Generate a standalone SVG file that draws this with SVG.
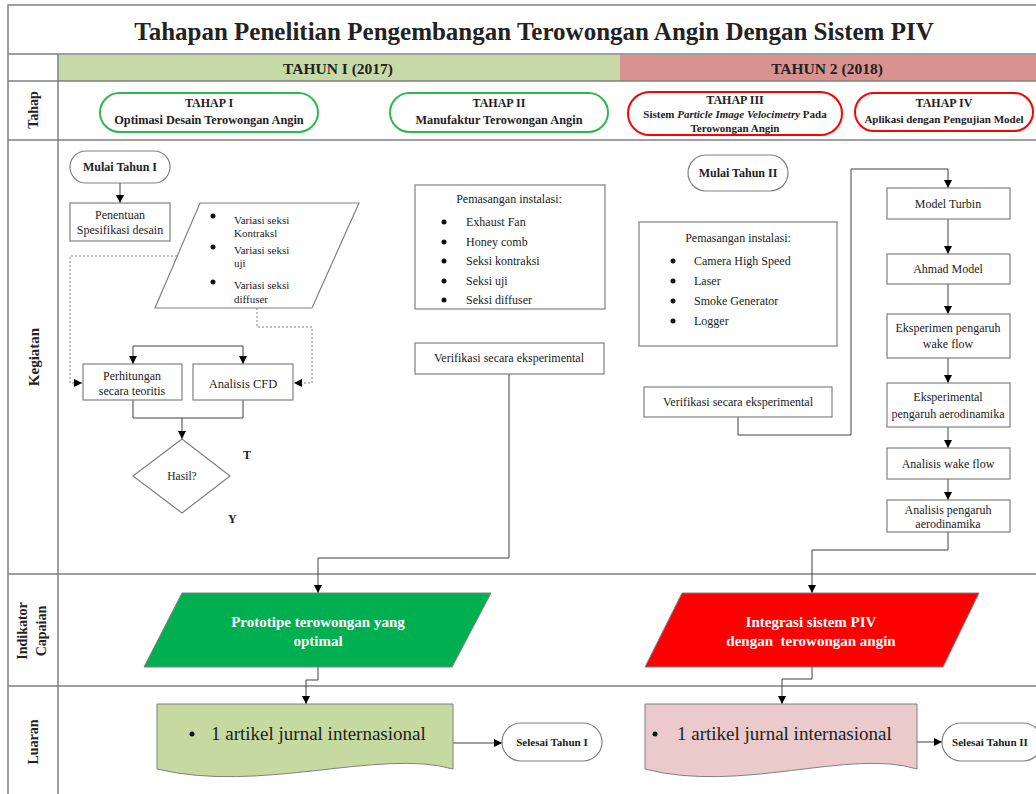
<svg xmlns="http://www.w3.org/2000/svg" width="1036" height="794" viewBox="0 0 1036 794" font-family="'Liberation Serif', 'DejaVu Serif', serif">
<defs>
<marker id="ah" markerUnits="userSpaceOnUse" markerWidth="8" markerHeight="8" refX="8" refY="4" orient="auto">
<path d="M0,0 L8,4 L0,8 z" fill="#000"/>
</marker>
<style>
text{font-family:'Liberation Serif','DejaVu Serif',serif;fill:#222}
.b{font-weight:bold}
.c{text-anchor:middle}
.grid{stroke:#808080;stroke-width:1.5;fill:none}
.box{fill:#fff;stroke:#808080;stroke-width:1.2}
.con{fill:none;stroke:#404040;stroke-width:1}
.arr{fill:none;stroke:#404040;stroke-width:1;marker-end:url(#ah)}
.dota{fill:none;stroke:#808080;stroke-width:1;stroke-dasharray:2,2;marker-end:url(#ah)}
.tg{fill:#fff;stroke:#2db84d;stroke-width:2}
.tr{fill:#fff;stroke:#ff0000;stroke-width:2}
.k{font-size:12px}
.t{font-weight:bold}
.w{fill:#fff;font-weight:bold;font-size:15px}
</style>
</defs>
<rect width="1036" height="794" fill="#fff"/>

<g id="grid">
<rect x="58" y="55" width="562" height="26" fill="#c6d9a6"/>
<rect x="620" y="55" width="416" height="26" fill="#d9928f"/>
<path class="grid" d="M8,794 V5 H1036 M8,54 H1036 M8,81 H1036 M8,140 H1036 M8,574 H1036 M8,686 H1036 M58,54 V794"/>
</g>

<g id="title">
<text class="b c" x="534" y="40" font-size="25">Tahapan Penelitian Pengembangan Terowongan Angin Dengan Sistem PIV</text>
<text class="b c" x="338" y="74" font-size="15.5">TAHUN I (2017)</text>
<text class="b c" x="827" y="74" font-size="15.5">TAHUN 2 (2018)</text>
</g>

<g id="row-labels">
<text class="b c" font-size="14" transform="translate(38,110) rotate(-90)">Tahap</text>
<text class="b c" font-size="15" transform="translate(39,357) rotate(-90)">Kegiatan</text>
<text class="b c" font-size="14" transform="translate(27,631) rotate(-90)">Indikator</text>
<text class="b c" font-size="14" transform="translate(46,631) rotate(-90)">Capaian</text>
<text class="b c" font-size="14" transform="translate(38,742) rotate(-90)">Luaran</text>
</g>

<g id="tahap1">
<rect class="tg" x="100" y="93" width="218" height="39" rx="19.5"/>
<text class="t c" x="209" y="107" font-size="12">TAHAP I</text>
<text class="t c" x="209" y="124" font-size="12.3">Optimasi Desain Terowongan Angin</text>
</g>
<g id="tahap2">
<rect class="tg" x="390" y="93" width="218" height="39" rx="19.5"/>
<text class="t c" x="499" y="107" font-size="12">TAHAP II</text>
<text class="t c" x="499" y="124" font-size="12.3">Manufaktur Terowongan Angin</text>
</g>
<g id="tahap3">
<rect class="tr" x="628" y="92" width="214" height="43" rx="21.5"/>
<text class="t c" x="735" y="104" font-size="12">TAHAP III</text>
<text class="t c" x="735" y="118" font-size="11">Sistem <tspan font-style="italic">Particle Image Velocimetry</tspan> Pada</text>
<text class="t c" x="735" y="132" font-size="11">Terowongan Angin</text>
</g>
<g id="tahap4">
<rect class="tr" x="855" y="93" width="178" height="38" rx="19"/>
<text class="t c" x="944" y="107" font-size="12">TAHAP IV</text>
<text class="t c" x="944" y="123" font-size="11">Aplikasi dengan Pengujian Model</text>
</g>

<g id="connectors">
<path class="arr" d="M120,183 V203"/>
<path class="dota" d="M177,256 H70 V383 H82"/>
<path class="dota" d="M257,308 V327 H312 V383 H294"/>
<path class="arr" d="M133,346 V364"/>
<path class="arr" d="M133,346 H243 V364"/>
<path class="con" d="M133,400 V418 H243 V400"/>
<path class="arr" d="M182,418 V439"/>
<path class="arr" d="M509,374 V558 H318 V593"/>
<path class="arr" d="M738,417 V435 H851 V169 H948 V188"/>
<path class="arr" d="M948,219 V254"/>
<path class="arr" d="M948,284 V314"/>
<path class="arr" d="M948,358 V383"/>
<path class="arr" d="M948,427 V448"/>
<path class="arr" d="M948,479 V500"/>
<path class="arr" d="M948,532 V550 H812 V593"/>
<path class="arr" d="M318,667 V680 H306 V704"/>
<path class="arr" d="M812,667 V679 H782 V704"/>
<path class="arr" d="M453,743 H502"/>
<path class="arr" d="M917,742 H942"/>
</g>

<g id="mulai1">
<rect class="box" x="70" y="151" width="100" height="32" rx="16"/>
<text class="b c" x="120" y="171" font-size="12">Mulai Tahun I</text>
</g>
<g id="penentuan">
<rect class="box" x="70" y="203" width="100" height="38"/>
<text class="k c" x="120" y="219">Penentuan</text>
<text class="k c" x="120" y="234">Spesifikasi desain</text>
</g>
<g id="variasi">
<polygon class="box" points="200,203 359,203 312,308 155,308"/>
<circle cx="213" cy="216" r="2.5" fill="#111"/>
<text x="234" y="224" font-size="11">Variasi seksi</text>
<text x="234" y="237" font-size="11">Kontraksl</text>
<circle cx="213" cy="247" r="2.5" fill="#111"/>
<text x="234" y="254" font-size="11">Variasi seksi</text>
<text x="234" y="267" font-size="11">uji</text>
<circle cx="213" cy="282" r="2.5" fill="#111"/>
<text x="234" y="289" font-size="11">Variasi seksi</text>
<text x="234" y="303" font-size="11">diffuser</text>
</g>
<g id="perhitungan">
<rect class="box" x="83" y="364" width="99" height="36"/>
<text class="k c" x="132" y="380">Perhitungan</text>
<text class="k c" x="132" y="395">secara teoritis</text>
</g>
<g id="cfd">
<rect class="box" x="193" y="364" width="100" height="36"/>
<text class="c" x="243" y="388" font-size="12.5">Analisis CFD</text>
</g>
<g id="hasil">
<polygon class="box" points="182,439 230,476 182,513 133,476"/>
<text class="c" x="182" y="480" font-size="11.5">Hasil?</text>
<text class="b" x="243" y="459" font-size="12">T</text>
<text class="b" x="228" y="523" font-size="12">Y</text>
</g>

<g id="pemasangan1">
<rect class="box" x="415" y="185" width="190" height="124"/>
<text class="k c" x="509" y="203">Pemasangan instalasi:</text>
<circle cx="444" cy="222" r="2.5" fill="#111"/>
<text class="k" x="466" y="226">Exhaust Fan</text>
<circle cx="444" cy="242" r="2.5" fill="#111"/>
<text class="k" x="466" y="246">Honey comb</text>
<circle cx="444" cy="261" r="2.5" fill="#111"/>
<text class="k" x="466" y="265">Seksi kontraksi</text>
<circle cx="444" cy="281" r="2.5" fill="#111"/>
<text class="k" x="466" y="285">Seksi uji</text>
<circle cx="444" cy="300" r="2.5" fill="#111"/>
<text class="k" x="466" y="304">Seksi diffuser</text>
</g>
<g id="verifikasi1">
<rect class="box" x="415" y="343" width="189" height="31"/>
<text class="k c" x="509" y="362">Verifikasi secara eksperimental</text>
</g>

<g id="mulai2">
<rect class="box" x="688" y="155" width="100" height="36" rx="18"/>
<text class="b c" x="738" y="177" font-size="12">Mulai Tahun II</text>
</g>
<g id="pemasangan2">
<rect class="box" x="639" y="222" width="198" height="124"/>
<text class="k c" x="738" y="242">Pemasangan instalasi:</text>
<circle cx="673" cy="261" r="2.5" fill="#111"/>
<text class="k" x="694" y="265">Camera High Speed</text>
<circle cx="673" cy="281" r="2.5" fill="#111"/>
<text class="k" x="694" y="285">Laser</text>
<circle cx="673" cy="301" r="2.5" fill="#111"/>
<text class="k" x="694" y="305">Smoke Generator</text>
<circle cx="673" cy="321" r="2.5" fill="#111"/>
<text class="k" x="694" y="325">Logger</text>
</g>
<g id="verifikasi2">
<rect class="box" x="644" y="387" width="188" height="30"/>
<text class="k c" x="738" y="406">Verifikasi secara eksperimental</text>
</g>

<g id="model-turbin">
<rect class="box" x="887" y="188" width="123" height="31"/>
<text class="k c" x="948" y="208">Model Turbin</text>
</g>
<g id="ahmad-model">
<rect class="box" x="887" y="254" width="123" height="30"/>
<text class="k c" x="948" y="273">Ahmad Model</text>
</g>
<g id="eksperimen-wake">
<rect class="box" x="887" y="314" width="123" height="44"/>
<text class="k c" x="948" y="332">Eksperimen pengaruh</text>
<text class="k c" x="948" y="348">wake flow</text>
</g>
<g id="eksperimental-aero">
<rect class="box" x="887" y="383" width="123" height="44"/>
<text class="k c" x="948" y="401">Eksperimental</text>
<text class="k c" x="948" y="418">pengaruh aerodinamika</text>
</g>
<g id="analisis-wake">
<rect class="box" x="887" y="448" width="123" height="31"/>
<text class="k c" x="948" y="468">Analisis wake flow</text>
</g>
<g id="analisis-aero">
<rect class="box" x="887" y="500" width="123" height="32"/>
<text class="k c" x="948" y="514">Analisis pengaruh</text>
<text class="k c" x="948" y="528">aerodinamika</text>
</g>

<g id="prototipe">
<polygon points="182,593 491,593 452,667 144,667" fill="#00b050" stroke="#808080" stroke-width="1"/>
<text class="w c" x="318" y="627">Prototipe terowongan yang</text>
<text class="w c" x="318" y="646">optimal</text>
</g>
<g id="integrasi">
<polygon points="682,593 979,593 943,667 645,667" fill="#ff0000" stroke="#808080" stroke-width="1"/>
<text class="w c" x="811" y="627">Integrasi sistem PIV</text>
<text class="w c" x="811" y="646" xml:space="preserve">dengan  terowongan angin</text>
</g>

<g id="luaran1">
<path d="M157,704 H453 V769 C380,748 260,794 157,769 Z" fill="#c6d9a0" stroke="#808080" stroke-width="1"/>
<circle cx="192" cy="734" r="2.5" fill="#111"/>
<text x="211" y="740" font-size="19">1 artikel jurnal internasional</text>
</g>
<g id="luaran2">
<path d="M645,704 H917 V769 C850,748 740,794 645,769 Z" fill="#eacaca" stroke="#808080" stroke-width="1"/>
<circle cx="655" cy="734" r="2.5" fill="#111"/>
<text x="677" y="740" font-size="19">1 artikel jurnal internasional</text>
</g>

<g id="selesai1">
<rect class="box" x="502" y="723" width="100" height="38" rx="19"/>
<text class="b c" x="552" y="746" font-size="11">Selesai Tahun I</text>
</g>
<g id="selesai2">
<rect class="box" x="942" y="723" width="100" height="38" rx="19"/>
<text class="b c" x="990" y="746" font-size="11">Selesai Tahun II</text>
</g>
</svg>
